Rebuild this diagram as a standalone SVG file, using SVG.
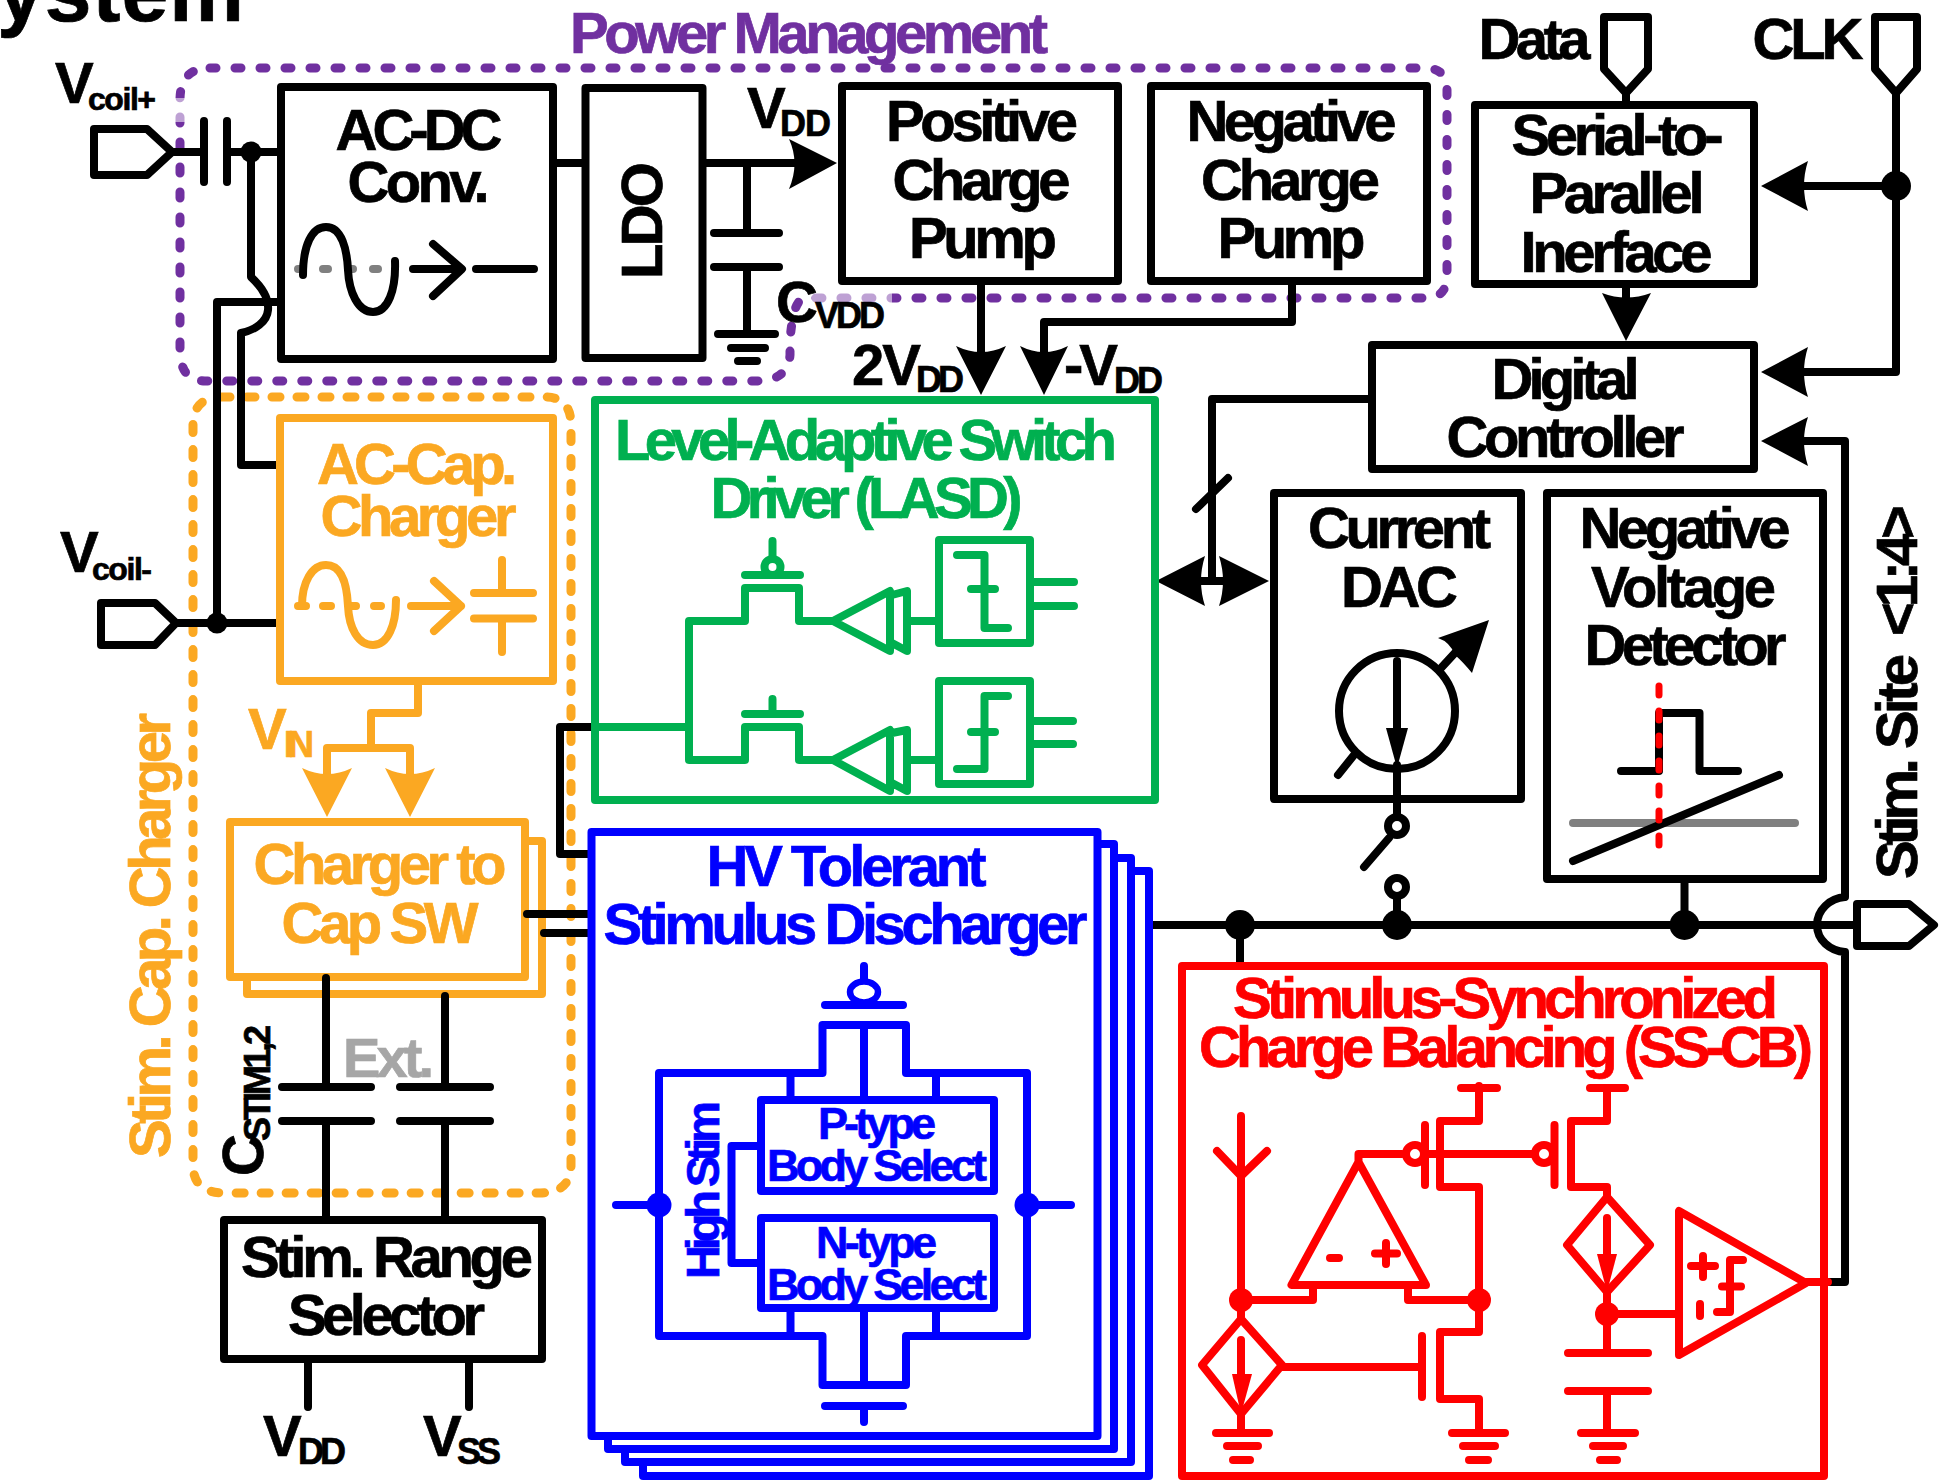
<svg xmlns="http://www.w3.org/2000/svg" width="1948" height="1484" viewBox="0 0 1948 1484">
<style>
text{font-family:"Liberation Sans",Arial,sans-serif;font-weight:bold;font-size:58px;fill:#000;stroke:#000;stroke-width:.7}
.s{font-size:36px}.xs{font-size:32px}.m{font-size:45px}
.p{fill:#7030a0;stroke:#7030a0}.o{fill:#fba822;stroke:#fba822}.g{fill:#00b050;stroke:#00b050}.b{fill:#0000ff;stroke:#0000ff}.r{fill:#ff0000;stroke:#ff0000}.e{fill:#a6a6a6;stroke:#a6a6a6}
path,rect,ellipse,circle,line{stroke-linecap:round;stroke-linejoin:round}
.K,.O,.G,.B,.R{fill:none;stroke-width:8}
.K{stroke:#000}.O{stroke:#fba822}.G{stroke:#00b050}.B{stroke:#0000ff}.R{stroke:#ff0000}
.fk{fill:#000;stroke:none}.fo{fill:#fba822;stroke:none}.fb{fill:#0000ff;stroke:none}.fr{fill:#ff0000;stroke:none}
.dp{fill:none;stroke:#7030a0;stroke-width:9;stroke-dasharray:6 19}
.do{fill:none;stroke:#fba822;stroke-width:9;stroke-dasharray:8 17}
</style>
<rect width="1948" height="1484" fill="#fff"/>
<text x="-3" y="21" style="font-size:84px" textLength="247" lengthAdjust="spacing">ystem</text>

<g id="power-management-group">
<path class="dp" d="M210 68H1425Q1447 68 1447 90V276Q1447 298 1425 298H806C795 298 792 318 790 340V355Q788 381 756 381H205Q180 381 180 350V100Q180 68 210 68Z"/>
<text class="p" x="570" y="53" textLength="478" lengthAdjust="spacing">Power Management</text>
<rect x="174" y="98" width="12" height="24" fill="#fff" opacity=".55"/>
<rect x="812" y="290" width="80" height="16" fill="#fff" opacity=".55"/>
</g>
<g id="stim-cap-charger-group">
<path class="do" d="M222 397H545Q571 397 571 425V1165Q571 1193 540 1193H225Q193 1193 193 1165V425Q193 397 222 397Z"/>
<text class="o" transform="translate(170 1158) rotate(-90)" textLength="445" lengthAdjust="spacing">Stim. Cap. Charger</text>
</g>

<g id="connectors">
<path class="K" d="M172 152H204M204 121V182M227 121V182M227 152H280"/>
<path class="K" d="M251 152V277C265 290 269 300 268 310C267 322 255 330 241 333V465H277"/>
<path class="K" d="M280 302H217V623"/>
<path class="K" d="M176 623H277"/>
<circle class="fk" cx="251" cy="152" r="10.500"/>
<circle class="fk" cx="217" cy="623" r="10.500"/>
<path class="K" d="M556 163H585M706 163H795"/>
<path class="fk" d="M837 163L789 139Q800 163 789 189Z"/>
<path class="K" d="M747 163V233M714 233H779M714 267H779M747 267V334M718 334H775M731 348H765M738 361H757"/>
<path class="K" d="M981 285V352"/>
<path class="fk" d="M981 395L956 346Q981 358 1006 346Z"/>
<path class="K" d="M1292 285V322H1044V352"/>
<path class="fk" d="M1044 395L1020 346Q1044 358 1068 346Z"/>
<path class="K" d="M1626 93V103M1626 288V300"/>
<path class="fk" d="M1626 341L1602 293Q1626 302 1651 293Z"/>
<path class="K" d="M1896 93V372H1802M1896 186H1802"/>
<circle class="fk" cx="1896" cy="186" r="15"/>
<path class="fk" d="M1761 186L1808 161Q1800 186 1808 211Z"/>
<path class="fk" d="M1761 372L1808 347Q1800 372 1808 397Z"/>
<path class="fk" d="M1761 441L1808 417Q1800 441 1808 466Z"/>
<path class="K" d="M1802 441H1845V897C1830 898 1817 910 1817 925C1817 940 1830 951 1845 952V1282H1826"/>
<path class="K" d="M1372 399H1212V581M1196 509L1228 478M1198 581H1226"/>
<path class="fk" d="M1156 581L1205 556Q1197 581 1205 606Z"/>
<path class="fk" d="M1269 581L1219 556Q1227 581 1219 606Z"/>
<path class="O" d="M418 681V713H371V748M327 775V748H410V775"/>
<path class="fo" d="M327 817L302 768Q327 780 352 768Z"/>
<path class="fo" d="M410 817L385 768Q410 780 435 768Z"/>
<path class="K" d="M282 1087H371M400 1087H490M445 1003V1087M282 1121H371M400 1121H490M326 1121V1217M445 1121V1217"/>
<path class="K" d="M308 1363V1407M469 1363V1407"/>
<path class="K" d="M1153 925H1857"/>
<path class="K" d="M1397 803V817M1389 838L1364 867M1397 896V925M1684.500 883V925M1240 925V966"/>
<circle class="fk" cx="1240" cy="925" r="15"/>
<circle class="fk" cx="1397" cy="925" r="15"/>
<circle class="fk" cx="1684.500" cy="925" r="15"/>
<circle class="K" cx="1397" cy="826" r="9" style="fill:#fff"/>
<circle class="K" cx="1397" cy="887" r="9" style="fill:#fff"/>
</g>

<g id="vcoil-plus-pad"><path class="K" d="M94 129H147L172 152L147 175H94Z"/>
<text x="55" y="103" textLength="37" lengthAdjust="spacing">V</text><text class="xs" x="88" y="110" textLength="68" lengthAdjust="spacing">coil+</text></g>
<g id="vcoil-minus-pad"><path class="K" d="M101 603H155L176 623L155 645H101Z"/>
<text x="60" y="572" textLength="37" lengthAdjust="spacing">V</text><text class="xs" x="92" y="580" textLength="60" lengthAdjust="spacing">coil-</text></g>

<g id="ac-dc-conv"><rect class="K" x="281" y="87" width="272" height="272"/>
<text x="335.500" y="150" textLength="167" lengthAdjust="spacing">AC-DC</text>
<text x="347.500" y="202" textLength="142" lengthAdjust="spacing">Conv.</text>
<path d="M298 269H386" fill="none" stroke="#808080" stroke-width="8" stroke-dasharray="5 20"/>
<path class="K" d="M303 275C303 245 312 227 326 227C342 227 347 250 348 270C349 292 358 312 373 312C388 312 396 290 395 261M413 269H459M433 244L462 269L433 296M476 269H534"/>
</g>
<g id="ldo"><rect class="K" x="585.500" y="88" width="117" height="270"/>
<text transform="translate(662 279) rotate(-90)" textLength="117" lengthAdjust="spacing">LDO</text></g>
<g id="vdd-label"><text x="747" y="128" textLength="37" lengthAdjust="spacing">V</text><text class="s" x="780" y="136" textLength="51" lengthAdjust="spacing">DD</text></g>
<g id="cvdd-label"><text x="776" y="322" textLength="40" lengthAdjust="spacing">C</text><text class="s" x="815" y="328" textLength="70" lengthAdjust="spacing">VDD</text></g>
<g id="2vdd-label"><text x="852" y="385" textLength="69" lengthAdjust="spacing">2V</text><text class="s" x="916" y="392" textLength="48" lengthAdjust="spacing">DD</text></g>
<g id="neg-vdd-label"><text x="1064" y="385" textLength="54" lengthAdjust="spacing">-V</text><text class="s" x="1114" y="393" textLength="49" lengthAdjust="spacing">DD</text></g>

<g id="positive-charge-pump"><rect class="K" x="842" y="86" width="276" height="195"/>
<text x="886" y="141" textLength="192" lengthAdjust="spacing">Positive</text>
<text x="892.500" y="200" textLength="178" lengthAdjust="spacing">Charge</text>
<text x="909" y="258" textLength="148" lengthAdjust="spacing">Pump</text></g>
<g id="negative-charge-pump"><rect class="K" x="1151" y="86" width="276" height="195"/>
<text x="1186.500" y="141" textLength="210" lengthAdjust="spacing">Negative</text>
<text x="1201" y="200" textLength="179" lengthAdjust="spacing">Charge</text>
<text x="1217.500" y="258" textLength="148" lengthAdjust="spacing">Pump</text></g>

<g id="data-pad"><path class="K" d="M1604 17H1648V69L1626 93L1604 69Z"/><text x="1478.500" y="59" textLength="112" lengthAdjust="spacing">Data</text></g>
<g id="clk-pad"><path class="K" d="M1875 17H1917V69L1896 93L1875 69Z"/><text x="1752.500" y="59" textLength="111" lengthAdjust="spacing">CLK</text></g>

<g id="serial-to-parallel"><rect class="K" x="1475" y="105" width="279" height="179"/>
<text x="1511.500" y="155" textLength="212" lengthAdjust="spacing">Serial-to-</text>
<text x="1529.500" y="213" textLength="175" lengthAdjust="spacing">Parallel</text>
<text x="1520.500" y="272" textLength="192" lengthAdjust="spacing">Inerface</text></g>
<g id="digital-controller"><rect class="K" x="1372" y="345" width="382" height="124"/>
<text x="1491.500" y="399" textLength="148" lengthAdjust="spacing">Digital</text>
<text x="1446.500" y="457" textLength="238" lengthAdjust="spacing">Controller</text></g>

<g id="ac-cap-charger"><rect class="O" x="280" y="418" width="273" height="263"/>
<text class="o" x="317" y="484" textLength="200" lengthAdjust="spacing">AC-Cap.</text>
<text class="o" x="320.500" y="536" textLength="196" lengthAdjust="spacing">Charger</text>
<path class="O" d="M298 606H306M323 606H331M351 606H356M374 606H381" stroke-width="7"/>
<path class="O" d="M302 606C302 582 312 565 326 565C342 565 347 585 348 606C349 628 358 645 373 645C388 645 396 625 396 600M411 606H461M434 581L461 606L434 631M474 593H533M474 618.500H533M502 560V593M502 618.500V652"/>
</g>
<g id="vin-label"><text class="o" x="248" y="748.500" textLength="37" lengthAdjust="spacing">V</text><text class="o s" x="284" y="756.500" textLength="30" lengthAdjust="spacing">IN</text></g>

<g id="charger-to-cap-sw"><rect class="O" x="247" y="841" width="295" height="153" style="fill:#fff"/>
<rect class="O" x="230" y="822" width="295" height="155" style="fill:#fff"/>
<text class="o" x="253.500" y="884" textLength="253" lengthAdjust="spacing">Charger to</text>
<text class="o" x="281.500" y="943" textLength="197" lengthAdjust="spacing">Cap SW</text></g>
<path id="sw-wires" class="K" d="M326 978V1087M445 996V1087M527 914H590M544 933H590M595 727H560V854H592"/>
<g id="ext-label"><text class="e" style="font-size:56px" x="343" y="1077" textLength="91" lengthAdjust="spacing">Ext.</text></g>
<g id="cstim-label"><text transform="translate(263 1176) rotate(-90)" textLength="40" lengthAdjust="spacing">C</text>
<text class="s" transform="translate(270 1141) rotate(-90)" textLength="116" lengthAdjust="spacing">STIM1,2</text></g>
<g id="stim-range-selector"><rect class="K" x="224" y="1220" width="318" height="139"/>
<text x="241" y="1277" textLength="292" lengthAdjust="spacing">Stim. Range</text>
<text x="288" y="1335" textLength="197" lengthAdjust="spacing">Selector</text></g>
<g id="vdd-bottom"><text x="263" y="1456" textLength="36" lengthAdjust="spacing">V</text><text class="s" x="298" y="1464" textLength="48" lengthAdjust="spacing">DD</text></g>
<g id="vss-bottom"><text x="423" y="1456" textLength="36" lengthAdjust="spacing">V</text><text class="s" x="457" y="1464" textLength="44" lengthAdjust="spacing">SS</text></g>

<g id="lasd"><rect class="G" x="595" y="400" width="560" height="400"/>
<text class="g" x="615" y="460" textLength="502" lengthAdjust="spacing">Level-Adaptive Switch</text>
<text class="g" x="710.500" y="518" textLength="312" lengthAdjust="spacing">Driver (LASD)</text>
<path class="G" d="M595 727H689M689 621V760M689 621H745V588H799V621H833M689 760H745V727H799V760H833"/>
<path class="G" d="M772.500 541V558M745 575H800M772.500 699V714M745 714H800"/>
<circle class="G" cx="772.500" cy="567" r="8" stroke-width="7"/>
<path class="G" d="M833 621L890 591V651ZM892 595L907 591V651L892 643M907 621H935M833 760L890 730V791ZM892 733L907 730V791L892 783M907 760H935"/>
<rect class="G" x="939" y="540" width="91" height="103"/>
<rect class="G" x="939" y="681" width="91" height="103"/>
<path class="G" d="M957 555H984.500V628H1008M971 589H995M1033 582H1074M1033 606H1074"/>
<path class="G" d="M957 769H984.500V696H1008M971 732H995M1033 721H1073M1033 744H1073"/>
</g>

<g id="stimulus-discharger">
<rect class="B" x="643" y="871" width="506" height="605" style="fill:#fff"/>
<rect class="B" x="625" y="858" width="506" height="604" style="fill:#fff"/>
<rect class="B" x="608" y="844" width="506" height="605" style="fill:#fff"/>
<rect class="B" x="591.500" y="832" width="506" height="604" style="fill:#fff"/>
<text class="b" x="706.500" y="886" textLength="280" lengthAdjust="spacing">HV Tolerant</text>
<text class="b" x="603.500" y="944" textLength="484" lengthAdjust="spacing">Stimulus Discharger</text>
<path class="B" d="M864 966V980M825 1005H903"/>
<ellipse class="B" cx="864" cy="992" rx="14" ry="10.500" style="stroke-width:6.500"/>
<path class="B" d="M822.500 1073V1025H906V1073H1027V1336H906V1385H822.500V1336H659V1073Z"/>
<path class="B" d="M864 1025V1100M790.500 1073V1100M936 1073V1100M790.500 1312V1336M936 1312V1336M864 1312V1385M825 1406H903M864 1406V1422"/>
<rect class="B" x="761" y="1100" width="233" height="91"/>
<rect class="B" x="761" y="1218" width="233" height="90"/>
<path class="B" d="M616 1205H659M1027 1205H1071M757 1146H731.500V1263H757"/>
<circle class="fb" cx="659" cy="1205" r="12.500"/><circle class="fb" cx="1027" cy="1205" r="12.500"/>
<text class="b" style="font-size:47px" transform="translate(719 1279) rotate(-90)" textLength="178" lengthAdjust="spacing">High Stim</text>
<text class="b m" x="818" y="1139" textLength="118" lengthAdjust="spacing">P-type</text>
<text class="b m" x="767" y="1181" textLength="220" lengthAdjust="spacing">Body Select</text>
<text class="b m" x="816" y="1258" textLength="121" lengthAdjust="spacing">N-type</text>
<text class="b m" x="767" y="1300" textLength="220" lengthAdjust="spacing">Body Select</text>
</g>

<g id="current-dac"><rect class="K" x="1274" y="493" width="247" height="306"/>
<text x="1308" y="548" textLength="183" lengthAdjust="spacing">Current</text>
<text x="1341" y="607" textLength="117" lengthAdjust="spacing">DAC</text>
<circle class="K" cx="1397" cy="711" r="58"/>
<path class="K" d="M1397 661V735M1397 765V803M1338 775L1354 755M1441 668L1465 642"/>
<path class="fk" d="M1397 768L1386 728H1408Z"/>
<path class="fk" d="M1489 620L1438 638Q1450 642 1455 655Q1463 662 1472 673Z"/>
</g>

<g id="negative-voltage-detector"><rect class="K" x="1547" y="493" width="276" height="386"/>
<text x="1579.500" y="548" textLength="211" lengthAdjust="spacing">Negative</text>
<text x="1591" y="607" textLength="185" lengthAdjust="spacing">Voltage</text>
<text x="1584.500" y="665" textLength="202" lengthAdjust="spacing">Detector</text>
<path class="K" d="M1621 771H1659V713H1699.500V771H1738"/>
<path d="M1573 823H1795" fill="none" stroke="#808080" stroke-width="8"/>
<path class="K" d="M1573 861L1779 775"/>
<path d="M1659 686V850" fill="none" stroke="#ff0000" stroke-width="7" stroke-dasharray="9 16"/>
</g>

<g id="stim-site-pad"><path class="K" d="M1857 904H1909L1934 925L1909 946H1857Z"/>
<text transform="translate(1916.500 879) rotate(-90)" textLength="121" lengthAdjust="spacing">Stim.</text>
<text transform="translate(1916.500 749) rotate(-90)" textLength="95" lengthAdjust="spacing">Site</text>
<text transform="translate(1916.500 636) rotate(-90)" textLength="131" lengthAdjust="spacing">&lt;1:4&gt;</text></g>

<g id="ss-cb"><rect class="R" x="1182" y="966" width="642" height="510"/>
<text class="r" x="1233" y="1018" textLength="545" lengthAdjust="spacing">Stimulus-Synchronized</text>
<text class="r" x="1199" y="1067" textLength="614" lengthAdjust="spacing">Charge Balancing (SS-CB)</text>
<path class="R" d="M1241 1116V1318M1217 1151L1241 1176L1267 1151"/>
<path class="R" d="M1241 1319L1202 1365L1241 1414L1282 1365ZM1241 1340V1380M1241 1414V1433M1216 1433H1269M1227 1446H1258M1233 1460H1250"/>
<path class="fr" d="M1241 1414L1232 1374H1252Z"/>
<circle class="fr" cx="1241" cy="1300" r="12"/>
<path class="R" d="M1241 1300H1313V1285M1358.500 1162L1291.500 1285H1426ZM1358.500 1162V1154H1402M1330 1258H1339M1375 1253.500H1397M1386 1243V1264M1408 1285V1300H1479"/>
<circle class="R" cx="1415" cy="1154" r="9" stroke-width="7"/>
<path class="R" d="M1425 1125V1185M1425 1154H1533M1479 1086V1121H1440V1187H1479V1332H1440V1399H1479V1433M1461 1088H1497M1452 1433H1505M1463 1446H1495M1469 1460H1488"/>
<circle class="fr" cx="1479" cy="1300" r="12"/>
<path class="R" d="M1282 1367H1422M1422 1336V1397"/>
<circle class="R" cx="1544" cy="1154" r="9" stroke-width="7"/>
<path class="R" d="M1554.500 1125V1185M1607 1088V1121H1571V1187H1607V1197M1590 1088H1625"/>
<path class="R" d="M1607 1197L1567 1245L1607 1292L1650 1245ZM1607 1218V1258M1607 1292V1353M1568 1353H1648M1568 1391H1648M1607 1391V1433M1581 1433H1635M1593 1446H1623M1600 1460H1617"/>
<path class="fr" d="M1607 1292L1597 1254H1617Z"/>
<circle class="fr" cx="1607" cy="1314" r="12"/>
<path class="R" d="M1607 1314H1679M1679 1211V1355L1806 1283ZM1691 1266H1715M1703 1256V1277M1700 1304V1316M1743 1260H1730V1312H1717M1722 1286.500H1741M1806 1282H1828"/>
</g>
</svg>
